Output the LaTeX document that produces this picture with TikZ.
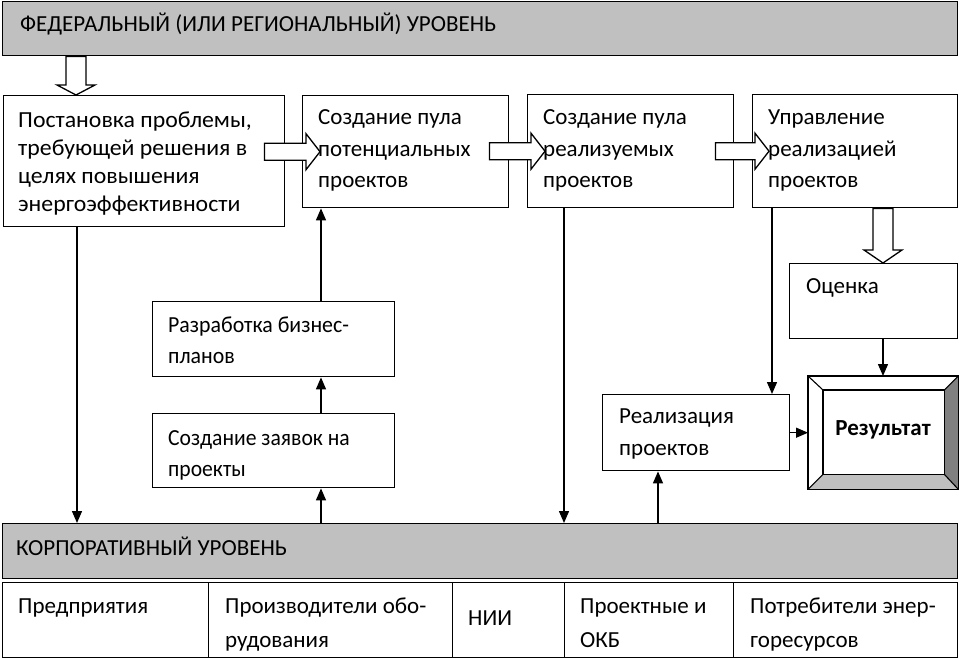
\documentclass[tikz,border=0pt]{standalone}
\usepackage{fontspec}
\usepackage{graphicx}
\setmainfont{Carlito}
\usetikzlibrary{arrows.meta,calc}
\definecolor{bannergray}{RGB}{192,192,192}
\definecolor{bevdark}{RGB}{128,128,128}
\definecolor{bevlight}{RGB}{192,192,192}
\newcommand\fs[2][23]{\fontsize{#1}{#2}\selectfont}
\newcommand\lines[3][1]{\scalebox{#1}[1]{\parbox[t]{260pt}{\fs{#2}#3}}}
\begin{document}
\begin{tikzpicture}[x=1pt,y=-1pt,
  box/.style={draw,line width=1.4pt,fill=white,inner sep=0pt,anchor=north west},
  banner/.style={box,fill=bannergray},
  txt/.style={inner sep=0pt,anchor=base west,font=\fs{28}},
  conn/.style={line width=1.4pt,-{Triangle[length=12pt,width=10pt]}},
  hollow/.style={draw,line width=1.3pt,fill=white},
  harrowR/.style={to path={let \p1=(\tikztostart), \p2=(\tikztotarget) in
    (\x1,\y2+8.5pt) -- (\x2-14pt,\y2+8.5pt) -- (\x2-14pt,\y2+18pt) -- (\x2,\y2)
    -- (\x2-14pt,\y2-18pt) -- (\x2-14pt,\y2-8.5pt) -- (\x1,\y2-8.5pt) -- cycle}},
  harrowD/.style={to path={let \p1=(\tikztostart), \p2=(\tikztotarget) in
    (\x2-10pt,\y1) -- (\x2-10pt,\y2+#1) -- (\x2-19pt,\y2+#1) -- (\x2,\y2)
    -- (\x2+19pt,\y2+#1) -- (\x2+10pt,\y2+#1) -- (\x2+10pt,\y1) -- cycle}}
]
\useasboundingbox (0,0) rectangle (959,658);

% banners
\node[banner,minimum width=955pt,minimum height=54pt] (fed) at (2,1) {};
\node[banner,minimum width=955pt,minimum height=55pt] (corp) at (2,523) {};

% main boxes
\node[box,minimum width=281pt,minimum height=131pt] (b1) at (3,95) {};
\node[box,minimum width=206pt,minimum height=112pt] (b2) at (302,95) {};
\node[box,minimum width=206pt,minimum height=113pt] (b3) at (527,94) {};
\node[box,minimum width=205pt,minimum height=113pt] (b4) at (752,94) {};
\node[box,minimum width=168pt,minimum height=75pt] (eval) at (789,263) {};
\node[box,minimum width=242pt,minimum height=75pt] (dev) at (152,301) {};
\node[box,minimum width=242pt,minimum height=74pt] (apps) at (152,413) {};
\node[box,minimum width=187pt,minimum height=76pt] (impl) at (602,394) {};

% result box with bevel
\node[box,minimum width=149pt,minimum height=112pt] (res) at (808,376) {};
\node[inner sep=0pt,anchor=north west,minimum width=121pt,minimum height=84pt] (resin) at (823,390) {};
\fill[bevdark] (res.north east) -- (res.south east) -- (resin.south east) -- (resin.north east) -- cycle;
\fill[bevlight] (res.south west) -- (res.south east) -- (resin.south east) -- (resin.south west) -- cycle;
\draw[line width=1.4pt] (res.north west) rectangle (res.south east);
\draw[line width=1.4pt] (resin.north west) rectangle (resin.south east);
\draw[line width=1.1pt] (res.north west) -- (resin.north west)
  (res.north east) -- (resin.north east)
  (res.south west) -- (resin.south west)
  (res.south east) -- (resin.south east);

% table
\node[box,minimum width=206pt,minimum height=75pt] (c1) at (2,582) {};
\node[box,minimum width=244pt,minimum height=75pt] (c2) at (208,582) {};
\node[box,minimum width=112pt,minimum height=75pt] (c3) at (452,582) {};
\node[box,minimum width=169pt,minimum height=75pt] (c4) at (564,582) {};
\node[box,minimum width=224pt,minimum height=75pt] (c5) at (733,582) {};

% connectors
\draw[conn] ([xshift=74pt]b1.south west) -- ([xshift=74pt]b1.south west |- corp.north);
\draw[conn] ([xshift=169pt]apps.south west |- corp.north) -- ([xshift=169pt]apps.south west);
\draw[conn] ([xshift=169pt]apps.north west) -- ([xshift=169pt]dev.south west);
\draw[conn] ([xshift=169pt]dev.north west) -- ([xshift=169pt]dev.north west |- b2.south);
\draw[conn] ([xshift=37pt]b3.south west) -- ([xshift=37pt]b3.south west |- corp.north);
\draw[conn] ([xshift=20pt]b4.south west) -- ([xshift=20pt]b4.south west |- impl.north);
\draw[conn] ([xshift=94pt]eval.south west) -- ([xshift=94pt]eval.south west |- res.north);
\draw[conn] (impl.east) -- (impl.east -| res.west);
\draw[conn] ([xshift=56pt]impl.south west |- corp.north) -- ([xshift=56pt]impl.south west);

% hollow arrows
\draw[hollow] ([xshift=73pt]b1.north west |- fed.south) to[harrowD=10pt] ([xshift=73pt]b1.north west);
\draw[hollow] ([xshift=131pt]b4.south west) to[harrowD=13pt] ([xshift=94pt]eval.north west);
\draw[hollow] ([xshift=-21pt]b1.east |- b2.west) to[harrowR] ([xshift=18pt]b2.west);
\draw[hollow] ([xshift=-20pt]b2.east |- b3.west) to[harrowR] ([xshift=18pt]b3.west);
\draw[hollow] ([xshift=-19pt]b3.east |- b4.west) to[harrowR] ([xshift=17pt]b4.west);

% texts
\node[txt] (tfed) at (20,32) {ФЕДЕРАЛЬНЫЙ (ИЛИ РЕГИОНАЛЬНЫЙ) УРОВЕНЬ};
\node[txt] (tcorp) at (16,555) {КОРПОРАТИВНЫЙ УРОВЕНЬ};
\node[txt] (t1) at (18,128) {\lines[1.035]{27.7}{Постановка проблемы,\\требующей решения в\\целях повышения\\энергоэффективности}};
\node[txt] (t2) at (318,125) {\lines{31.5}{Создание пула\\потенциальных\\проектов}};
\node[txt] (t3) at (543,125) {\lines{31.5}{Создание пула\\реализуемых\\проектов}};
\node[txt] (t4) at (768,125) {\lines{31.5}{Управление\\реализацией\\проектов}};
\node[txt] (teval) at (806,293) {Оценка};
\node[txt] (tdev) at (168,332) {\lines[0.95]{31}{Разработка бизнес-\\планов}};
\node[txt] (tapps) at (168,445) {\lines[0.94]{31}{Создание заявок на\\проекты}};
\node[txt] (timpl) at (619,423) {\lines{32}{Реализация\\проектов}};
\node[txt,anchor=base,font=\fs{28}\bfseries] (tres) at (883,435) {Результат};
\node[txt] (tc1) at (18,613) {Предприятия};
\node[txt] (tc2) at (225,613) {\lines{34}{Производители обо-\\рудования}};
\node[txt] (tc3) at (468,625) {НИИ};
\node[txt] (tc4) at (580,613) {\lines{34}{Проектные и\\ОКБ}};
\node[txt] (tc5) at (750,613) {\lines{34}{Потребители энер-\\горесурсов}};
\end{tikzpicture}
\end{document}
